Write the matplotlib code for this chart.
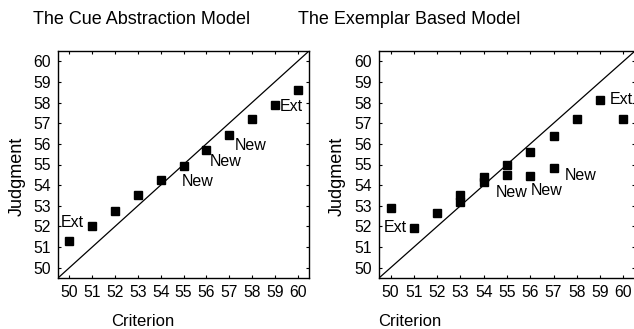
import matplotlib
matplotlib.use("Agg")
import matplotlib.pyplot as plt

plt.rcParams['font.family'] = ['Liberation Sans', 'DejaVu Sans']

# ---- data ----
criterion = [50, 51, 52, 53, 54, 55, 56, 57, 58, 59, 60]
cue_judgment = [51.3, 52.0, 52.75, 53.5, 54.25, 54.95, 55.7, 56.45, 57.2, 57.9, 58.6]

exemplar_criterion = [50, 51, 52, 53, 53, 54, 54, 55, 55, 56, 56, 57, 57, 58, 59, 60]
exemplar_judgment = [52.9, 51.9, 52.65, 53.53, 53.2, 54.38, 54.14, 54.98, 54.5,
                     55.59, 54.46, 56.39, 54.83, 57.19, 58.14, 57.19]

ticks = list(range(50, 61))
titles = ["The Cue Abstraction Model", "The Exemplar Based Model"]
cue_labels = [("Ext", 50.13, 52.2), ("New", 55.6, 54.2), ("New", 56.84, 55.14),
              ("New", 57.93, 55.94), ("Ext", 59.74, 57.83)]
ex_labels = [("Ext", 50.18, 51.97), ("New", 55.19, 53.63), ("New", 56.72, 53.74),
             ("New", 58.17, 54.49), ("Ext", 59.91, 58.15)]

W, H = 634, 329
fig = plt.figure(figsize=(W / 100, H / 100), dpi=100)

def px_axes(l, t, r, b):
    return fig.add_axes([l / W, 1 - b / H, (r - l) / W, (b - t) / H])

ax1 = px_axes(58, 51, 309, 278)
ax2 = px_axes(379, 51, 635, 278)

for ax, xs, ys, labels in [(ax1, criterion, cue_judgment, cue_labels),
                           (ax2, exemplar_criterion, exemplar_judgment, ex_labels)]:
    ax.set_xlim(49.5, 60.5)
    ax.set_ylim(49.5, 60.5)
    ax.plot([49.5, 60.5], [49.5, 60.5], color='black', lw=0.9)
    ax.plot(xs, ys, 's', color='black', markersize=5.2, ls='none')
    for txt, tx, ty in labels:
        ax.text(tx, ty, txt, ha='center', va='center', fontsize=11.5)
    ax.set_xticks(ticks)
    ax.set_yticks(ticks)
    ax.tick_params(direction='in', length=2.5, width=0.8, top=True, right=True,
                   labelsize=11.3, pad=5)
    for s in ax.spines.values():
        s.set_linewidth(1.0)
        s.set_color('black')

fig.text(142 / W, 1 - 20 / H, titles[0], ha='center', va='center', fontsize=13)
fig.text(409 / W, 1 - 20 / H, titles[1], ha='center', va='center', fontsize=13)
fig.text(143 / W, 1 - 321 / H, "Criterion", ha='center', va='center', fontsize=12)
fig.text(410 / W, 1 - 321 / H, "Criterion", ha='center', va='center', fontsize=12)
fig.text(17 / W, 1 - 176 / H, "Judgment", ha='center', va='center', fontsize=13, rotation=90)
fig.text(337 / W, 1 - 176 / H, "Judgment", ha='center', va='center', fontsize=13, rotation=90)

fig.savefig("out.png", dpi=100)
